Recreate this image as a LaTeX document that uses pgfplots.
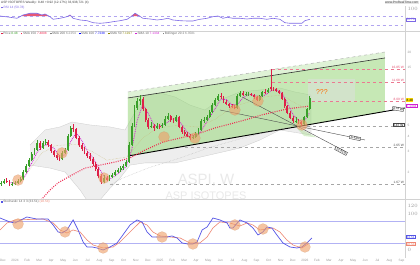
\documentclass[border=0pt]{standalone}
\usepackage{pgfplots}
\pgfplotsset{compat=1.18}
\usepackage{pgfplotstable}
\usepackage{fontspec}
\setmainfont{Liberation Sans}
\definecolor{cgreen}{RGB}{58,160,42}
\definecolor{cred}{RGB}{222,32,72}
\definecolor{crsi}{RGB}{125,105,230}
\definecolor{cstk}{RGB}{85,85,230}
\definecolor{cstd}{RGB}{238,135,115}
\definecolor{corange}{RGB}{240,160,105}
\definecolor{cchan}{RGB}{150,215,120}
\definecolor{cmag}{RGB}{210,30,210}
\definecolor{csma}{RGB}{240,40,80}
\definecolor{colive}{RGB}{200,185,120}
\newcommand{\tf}{\fontsize{3.2}{3.6}\selectfont}

% weekly candles, up weeks (close >= open)
\pgfplotstableread{
w o h l c
-5 1.60 1.72 1.56 1.65
-4 1.65 1.76 1.62 1.71
-1 1.59 1.68 1.55 1.62
0 1.62 1.72 1.58 1.65
1 1.65 1.78 1.62 1.71
2 1.71 1.86 1.68 1.78
3 1.78 2.10 1.75 2.03
4 2.03 2.38 1.98 2.28
5 2.28 2.66 2.22 2.56
6 2.56 2.98 2.50 2.87
7 2.87 3.25 2.80 3.10
8 3.10 3.72 3.02 3.55
10 3.22 3.68 3.15 3.55
11 3.55 3.85 3.40 3.61
17 2.61 3.02 2.55 2.93
18 2.93 3.25 2.85 3.10
19 3.10 4.20 3.05 4.06
20 4.06 4.95 3.98 4.73
32 1.68 1.90 1.64 1.81
34 1.74 1.92 1.70 1.85
35 1.85 1.98 1.80 1.92
36 1.92 2.10 1.88 2.03
37 2.03 2.20 1.98 2.11
38 2.11 2.28 2.05 2.19
39 2.19 2.36 2.12 2.28
40 2.28 2.58 2.22 2.46
41 2.46 3.60 2.40 3.41
42 3.41 5.20 3.35 4.91
43 4.91 7.30 4.80 6.94
44 6.94 8.40 6.70 7.94
45 7.94 8.95 7.40 8.25
49 4.82 5.30 4.70 4.91
51 4.73 5.20 4.65 4.91
53 4.88 5.25 4.75 5.01
54 5.01 5.90 4.95 5.62
55 5.62 6.30 5.50 5.95
58 5.41 6.10 5.30 5.84
64 3.90 4.15 3.82 3.98
65 3.98 4.40 3.90 4.21
66 4.21 4.75 4.12 4.55
67 4.55 5.60 4.45 5.41
68 5.41 5.80 5.20 5.51
69 5.51 6.10 5.40 5.84
70 5.84 6.70 5.75 6.43
71 6.43 7.60 6.30 7.35
72 7.35 8.40 7.20 8.09
73 8.09 9.10 7.95 8.73
80 6.94 9.00 6.85 8.73
81 8.73 9.70 8.60 9.25
83 8.90 9.40 8.70 9.00
84 9.00 9.50 8.80 9.08
88 8.09 8.95 7.95 8.73
89 8.73 9.70 8.60 9.43
91 9.35 10.20 9.20 9.80
101 5.41 5.80 5.20 5.45
104 5.10 6.00 5.00 5.84
105 5.84 7.00 5.75 6.81
106 6.81 8.70 6.70 8.48
}\upc
% down weeks (close < open)
\pgfplotstableread{
w o h l c
-3 1.71 1.80 1.66 1.70
-2 1.70 1.74 1.55 1.59
9 3.55 3.70 3.12 3.22
12 3.61 3.75 3.30 3.41
13 3.41 3.50 2.95 3.04
14 3.04 3.12 2.72 2.82
15 2.82 2.95 2.58 2.66
16 2.66 2.80 2.50 2.61
21 4.73 5.10 4.40 4.64
22 4.64 4.75 3.80 3.90
23 3.90 4.05 3.30 3.41
24 3.41 3.55 3.05 3.16
25 3.16 3.30 2.85 2.93
26 2.93 3.05 2.68 2.76
27 2.76 2.90 2.52 2.61
28 2.61 2.70 2.30 2.37
29 2.37 2.45 2.08 2.15
30 2.15 2.22 1.82 1.88
31 1.88 1.95 1.62 1.68
33 1.81 1.88 1.70 1.74
46 8.25 8.50 6.60 6.81
47 6.81 7.00 5.30 5.51
48 5.51 5.70 4.60 4.82
50 4.91 5.10 4.50 4.73
52 4.91 5.10 4.60 4.88
56 5.95 6.10 5.35 5.51
57 5.51 5.70 5.20 5.41
59 5.84 5.95 4.70 4.82
60 4.82 4.95 4.25 4.38
61 4.38 4.55 4.05 4.21
62 4.21 4.35 3.95 4.06
63 4.06 4.20 3.78 3.90
74 8.73 9.30 8.30 8.65
75 8.65 8.80 7.60 7.79
76 7.79 8.10 7.30 7.49
77 7.49 7.70 7.00 7.21
78 7.21 7.50 6.90 7.07
79 7.07 7.30 6.75 6.94
82 9.25 9.60 8.70 8.90
85 9.08 9.30 8.70 8.90
86 8.90 9.10 8.30 8.57
87 8.57 8.80 7.90 8.09
90 9.43 9.90 9.10 9.35
92 10.30 14.66 9.60 9.95
93 9.95 10.40 9.60 9.90
94 9.90 10.10 9.40 9.61
95 9.61 9.80 9.00 9.25
96 9.25 9.40 8.10 8.25
97 8.25 8.40 7.00 7.21
98 7.21 7.40 6.15 6.31
99 6.31 6.50 5.60 5.73
100 5.73 5.95 5.25 5.41
102 5.45 5.60 5.10 5.30
103 5.30 5.45 4.95 5.10
}\dnc

\pgfplotsset{panel/.style={scale only axis, width=405bp, xmin=-5.4, xmax=140.3,
  axis line style={draw=none}, xtick=\empty, tick style={draw=none},
  yticklabel pos=right, yticklabel style={font=\tf, text=gray!80, xshift=-1bp}},
  lg/.style={y filter/.expression={log10(y)}},
  hilite/.style={color=corange, only marks, mark=*, mark size=5.5bp, forget plot,
     mark options={fill=corange, fill opacity=0.62, draw=corange!80!black, draw opacity=0.3, line width=0.3bp}}}

\begin{document}
\begin{tikzpicture}
\useasboundingbox (0bp,0bp) rectangle (420bp,-265bp);
\fill[white] (0bp,0bp) rectangle (420bp,-265bp);

% ---------------- RSI panel
\begin{axis}[panel, at={(0bp,-6bp)}, anchor=north west, height=25bp, ymin=5.6, ymax=113,
  ytick={100}]
\addplot[fill=cred!75, draw=none, forget plot] coordinates {(2.5,70) (2.9,74.4) (5.4,81.7) (7.9,81.7) (9.7,74.4) (10.8,78.7) (12,70)};
\addplot[fill=cred!75, draw=none, forget plot] coordinates {(19.2,70) (19.8,74.4) (20.3,70)};
\addplot[fill=cred!75, draw=none, forget plot] coordinates {(41.8,70) (43.2,81.7) (44.2,74.4) (45,70)};
\addplot[crsi!60, dashed, line width=0.3bp, forget plot] coordinates {(-5.4,70) (140.3,70)};
\addplot[crsi!60, dashed, line width=0.3bp, forget plot] coordinates {(-5.4,30) (140.3,30)};
\addplot[crsi, line width=0.6bp] coordinates {
(-5.4,70.1) (-1.8,64.5) (0.7,60.2) (2.9,74.4) (5.4,81.7) (7.9,81.7) (9.7,74.4) (10.8,78.7)
(12.6,67.1) (13.7,55.9) (16.2,60.2) (18.7,67.1) (19.8,74.4) (20.9,60.2) (23.4,52.9) (25.9,49.9)
(28.1,41.3) (30.6,38.7) (33.1,41.3) (35.3,45.6) (37.8,49.9) (40.3,55.9) (42.1,70.1) (43.2,81.7)
(44.2,74.4) (46,60.2) (48.6,57.2) (51.1,52.9) (53.2,55.9) (55,60.2) (56.8,52.9) (59.4,49.9)
(61.9,48.6) (64,48.6) (66.5,55.9) (69.1,60.2) (71.2,67.1) (73,70.1) (74.8,60.2) (76.3,64.5)
(78.4,60.2) (80.9,60.2) (83.5,57.2) (85.6,60.2) (88.1,60.2) (90.6,55.9) (92.8,60.2) (95.3,55.9)
(97.1,41.3) (98.9,38.7) (101.4,38.7) (103.2,38.7) (104.3,49.9) (106.1,55.9)};
\end{axis}

% ---------------- Main price panel (y = log10 of price)
\begin{axis}[panel, at={(0bp,-35bp)}, anchor=north west, height=164bp,
  ymin=0.0828, ymax=1.4495,
  ytick={0.30103,0.47712,0.60206,0.69897,1.17609,1.30103},
  yticklabels={2,3,4,5,15,20}]
% Bollinger band: upper band, then lower band reversed
\addplot[lg, fill=gray!13, draw=gray!40, line width=0.3bp, forget plot] coordinates {
(5.4,3.40) (7.2,3.755) (10.8,4.55) (16.2,4.82) (20.5,5.30) (27.0,5.01) (34.2,4.82) (39.6,4.55)
(43.2,6.43) (46.8,8.90) (52.2,9.25) (57.6,8.57) (62.9,7.35) (68.3,6.68) (73.7,8.09) (80.9,9.43)
(88.1,9.80) (95.3,10.18) (100.7,9.43) (106.5,8.90)
(106.5,4.13) (95.3,4.55) (88.1,3.755) (80.9,3.22) (70.1,2.82) (57.6,2.42) (46.8,2.42) (41.4,2.32)
(37.8,1.81) (34.2,1.49) (30.6,1.19) (27.0,1.08) (23.4,1.44) (18.0,2.03) (12.6,2.19) (5.4,2.32)};
\addplot[lg, fill=cchan, fill opacity=0.30, draw=none, forget plot] coordinates {(40.6,9.43) (133.1,20.32) (133.1,6.48) (40.6,2.76)};
\addplot[lg, fill=cchan, fill opacity=0.34, draw=none, forget plot] coordinates {(40.6,8.41) (133.1,18.13) (133.1,6.48) (40.6,2.76)};
\addplot[lg, fill=gray!25, fill opacity=0.5, draw=none, forget plot] coordinates {(105.4,12.1) (122.3,12.1) (122.3,7.79) (105.4,7.79)};
\addplot[lg, fill=cchan, fill opacity=0.35, draw=none, forget plot] coordinates {(100.5,4.95) (108.5,3.95) (104,4.05)};
\addplot[lg, cred!60, dashed, line width=0.35bp, forget plot] coordinates {(92.4,14.66) (140.3,14.66)};
\addplot[lg, cred!60, dashed, line width=0.35bp, forget plot] coordinates {(92.4,11.43) (140.3,11.43)};
\addplot[lg, cred!60, dashed, line width=0.35bp, forget plot] coordinates {(106.8,7.94) (140.3,7.94)};
\addplot[lg, gray!70, dashed, line width=0.4bp, forget plot] coordinates {(105,4.91) (140.3,4.91)};
\addplot[lg, gray!70, dashed, line width=0.4bp, forget plot] coordinates {(61.2,3.28) (140.3,3.28)};
\addplot[lg, gray!70, dashed, line width=0.4bp, forget plot] coordinates {(34.2,1.62) (140.3,1.62)};
\addplot[lg, gray!60, dashed, line width=0.5bp, forget plot] coordinates {(40.6,9.43) (133.1,20.32)};
\addplot[lg, black!80, line width=0.6bp, forget plot] coordinates {(40.6,8.41) (133.1,18.13)};
\addplot[lg, black, line width=0.9bp, forget plot] coordinates {(40.6,2.76) (140.3,6.94)};
\addplot[lg, black!70, line width=0.4bp, forget plot] coordinates {(73.7,6.68) (125.9,3.755)};
\addplot[lg, black!70, line width=0.4bp, forget plot] coordinates {(81.7,8.57) (119.8,2.93)};
% SMA 200 (light grey dotted)
\addplot[lg, gray!55, line width=0.45bp, densely dotted, forget plot] coordinates {
(34.2,1.59) (38.8,1.81) (48,2.20) (59.4,2.66) (70,3.25) (82.0,3.90) (92,4.45) (102.5,5.01)};
\addplot[lg, colive, line width=0.4bp, densely dotted, forget plot] coordinates {
(1.8,1.65) (9.7,2.93) (14.7,3.38) (22,3.45) (28,2.99) (33,2.55) (40.3,2.71) (46,3.90) (51,4.70) (59,5.0)
(66,4.8) (72,5.6) (78,7.0) (84,7.8) (90,8.6) (96,8.9) (100,7.8) (106,6.6)};
\addplot[lg, csma, line width=1.1bp, dash pattern=on 0.9bp off 1.3bp, forget plot] coordinates {
(8,1.08) (9.7,1.21) (12.6,1.44) (15.5,1.65) (20.5,1.92) (25.2,2.19) (30.6,2.32) (36,2.46)
(41.4,2.66) (46.8,3.10) (53.2,3.61) (59.4,3.90) (65.5,4.21) (71.9,4.73) (77.3,5.10) (82.7,5.51)
(88.8,6.08) (97.8,6.81) (106.1,7.21)};
\addplot[lg, cmag, line width=0.8bp, densely dotted, forget plot] coordinates {
(-2,1.66) (0,1.64) (2,1.68) (4,1.94) (6,2.41) (8,2.99) (10,3.35) (12,3.44) (14,3.20) (16,2.77)
(18,2.82) (20,3.63) (22,4.31) (24,3.73) (26,3.05) (28,2.66) (30,2.24) (32,1.87) (34,1.77) (36,1.88)
(38,2.06) (40,2.26) (42,3.11) (44,5.51) (46,7.45) (48,6.21) (50,4.98) (52,4.86) (54,5.10) (56,5.51)
(58,5.67) (60,5.08) (62,4.35) (64,4.03) (66,4.15) (68,4.88) (70,5.78) (72,6.87) (74,8.20) (76,8.17)
(78,7.38) (80,7.45) (82,8.41) (84,9.03) (86,8.85) (88,8.57) (90,8.90) (92,9.65) (94,9.84) (96,9.25)
(98,7.67) (100,6.12) (102,5.46) (104,5.41) (106,6.33)};
% candles: wicks low->high, bodies open<->close
\addplot[cgreen, line width=0.4bp, forget plot, quiver={u=0, v={log10(\thisrow{h})-log10(\thisrow{l})}}]
  table[x=w, y expr={log10(\thisrow{l})}] {\upc};
\addplot[cred, line width=0.4bp, forget plot, quiver={u=0, v={log10(\thisrow{h})-log10(\thisrow{l})}}]
  table[x=w, y expr={log10(\thisrow{l})}] {\dnc};
\addplot[cgreen, line width=1.9bp, forget plot, quiver={u=0, v={log10(\thisrow{c})-log10(\thisrow{o})}}]
  table[x=w, y expr={log10(\thisrow{o})}] {\upc};
\addplot[cred, line width=1.9bp, forget plot, quiver={u=0, v={log10(\thisrow{o})-log10(\thisrow{c})}}]
  table[x=w, y expr={log10(\thisrow{c})}] {\dnc};
\addplot[lg, hilite] coordinates {
(1.1,1.74) (16.9,2.93) (32,1.81) (53.6,3.98) (64.7,3.90) (79.1,6.68) (87.4,7.94) (103.2,5.01)};
\node[text=orange!85!red, font=\fontsize{7}{8}\selectfont] at (axis cs:110.4,0.9745) {???};
\end{axis}

% ---------------- Stochastic panel
\begin{axis}[panel, at={(0bp,-200bp)}, anchor=north west, height=57bp, ymin=-18.3, ymax=137,
  ytick={0,100,120},
  xtick={-4.35,0,4.35,8.69,13.04,17.38,21.73,26.07,30.42,34.76,39.11,43.45,47.80,52.14,56.49,60.83,65.18,69.52,73.87,78.21,82.56,86.90,91.25,95.60,99.94,104.29,108.63,112.98,117.32,121.67,126.01,130.36,134.70,139.05},
  xticklabels={Dec,2024,Feb,Mar,Apr,May,Jun,Jul,Aug,Sep,Oct,Nov,Dec,2025,Feb,Mar,Apr,May,Jun,Jul,Aug,Sep,Oct,Nov,Dec,2026,Feb,Mar,Apr,May,Jun,Jul,Aug,Sep},
  xticklabel style={font=\tf, text=gray!80, yshift=1bp}]
\addplot[cstk!45, line width=0.5bp, forget plot] coordinates {(-5.4,80) (140.3,80)};
\addplot[cstk!45, line width=0.5bp, forget plot] coordinates {(-5.4,20) (140.3,20)};
\addplot[hilite] coordinates {
(1.1,71.7) (18,50) (31.7,6.3) (52.9,36.2) (64,17.2) (79.1,69) (89.2,58) (104.3,9)};
\addplot[cstd, line width=0.6bp] coordinates {
(-5.4,55.3) (-2.9,74.4) (0,82.6) (10.1,85.3) (13.7,74.4) (16.2,55.3) (18.7,47.1) (20.9,55.3) (23.4,49.9)
(25.9,28.1) (28.1,14.4) (31.7,6.3) (35.3,9) (37.8,22.6) (41.4,49.9) (45,77.1) (47.5,68.9) (49.6,49.9)
(52.2,39) (55.8,36.2) (59.4,33.5) (62.9,19.9) (66.5,19.9) (69.1,36.2) (71.2,60.8) (73.7,77.1) (77.3,74.4)
(80.9,66.2) (83.5,74.4) (85.6,68.9) (88.1,55.3) (90.6,58) (92.8,60.8) (95.3,49.9) (97.8,28.1) (100,14.4)
(103.2,6.3) (105.4,17.2)};
\addplot[cstk, line width=0.7bp] coordinates {
(-5.4,88) (-1.8,77) (0,74.4) (4.3,90.7) (7.9,85) (11.9,85) (13.7,69) (15.5,50) (16.9,47) (18.7,55.3)
(20.9,82.6) (22.7,55.3) (24.5,22.6) (25.9,9) (27.7,9) (29.5,6.3) (31.7,0.8) (34.2,9) (36.7,19.9)
(38.8,41.7) (41.4,69) (43.9,82.6) (45.7,77) (47.5,50) (49.3,36.2) (51.4,36.2) (54.7,36.2) (56.5,39)
(58.3,33.5) (60.1,19.9) (62.2,17.2) (64,17.2) (65.5,22.6) (67.3,55.3) (69.1,63.5) (71.2,88) (73.7,82.6)
(76.3,74.4) (77.3,60.8) (78.4,60.8) (80.9,82.6) (83.5,74.4) (85.6,60.8) (87.4,41.7) (89.2,50) (90.6,63.5)
(92.4,60.8) (94.2,41.7) (96.4,19.9) (98.9,9) (101.4,6.3) (103.2,9) (105,19.9) (106.8,33.5)};
\end{axis}

\draw[gray!35, line width=0.4bp] (0bp,-31.5bp) -- (420bp,-31.5bp);
\draw[gray!35, line width=0.4bp] (0bp,-199.5bp) -- (420bp,-199.5bp);
\draw[gray!35, line width=0.4bp] (405.5bp,-6bp) -- (405.5bp,-258bp);

\node[anchor=west, inner sep=0, font=\tf, text=black!75] at (1bp,-2.5bp) {ASP ISOTOPES Weekly: 8.48 +0.92 (12.17\%) 33,938,721 (4)};
\node[anchor=east, inner sep=0.6bp, font=\tf, fill=gray!20, text=black!70] at (419bp,-2.5bp) {www.ProRealTime.com};
\node[anchor=west, inner sep=0, font=\tf, text=crsi] at (1bp,-7.5bp) {\textcolor{crsi}{\rule{1.6bp}{1.6bp}} RSI 14 (50.78)};
\node[anchor=west, inner sep=0, font=\tf, text=black!60] at (1bp,-33.5bp) {\textcolor{cred}{\rule{1.6bp}{1.6bp}}\,Price \textcolor{cgreen}{8.48}\quad
 \textcolor{csma}{\rule{1.6bp}{1.6bp}}\,SMA 150 \textcolor{csma}{7.4808}\quad
 \textcolor{gray}{\rule{1.6bp}{1.6bp}}\,SMA 200 \textcolor{gray}{6.2254}\quad
 \textcolor{blue}{\rule{1.6bp}{1.6bp}}\,SMA 100 \textcolor{blue}{7.7238}\quad
 \textcolor{olive}{\rule{1.6bp}{1.6bp}}\,SMA 50 \textcolor{olive}{7.1917}\quad
 \textcolor{cmag}{\rule{1.6bp}{1.6bp}}\,SMA 10 \textcolor{cmag}{7.1334}\quad
 \textcolor{gray}{\rule{1.6bp}{1.6bp}}\,Bollinger 20 2 \textcolor{gray}{6.3581}};
\node[anchor=west, inner sep=0, font=\tf, text=black!60] at (1bp,-202bp) {\textcolor{cstk}{\rule{1.6bp}{1.6bp}}\,Stochastic 14 3 3 (33.51) \textcolor{cstd}{(18.54)}};
\node[text=gray!17, font=\fontsize{15}{16}\selectfont] at (206bp,-180bp) {ASPI, W};
\node[text=gray!17, font=\fontsize{11}{12}\selectfont] at (206bp,-196bp) {ASP ISOTOPES};
\node[anchor=east, inner sep=0, font=\tf, text=cred!80] at (404bp,-67bp) {16.85 W};
\node[anchor=east, inner sep=0, font=\tf, text=cred!80] at (404bp,-80bp) {11.68 W};
\node[anchor=east, inner sep=0, font=\tf, text=cred!80] at (404bp,-99bp) {8.09 W};
\node[anchor=east, inner sep=0.5bp, font=\tf, draw=black!70, fill=white, text=black] at (404bp,-125bp) {3.47 W};
\node[anchor=east, inner sep=0, font=\tf, text=black!70] at (404bp,-145bp) {2.65 W};
\node[anchor=east, inner sep=0, font=\tf, text=black!70] at (404bp,-182bp) {1.67 W};
\node[anchor=west, inner sep=0.5bp, font=\tf, fill=yellow!80!orange, text=black] at (406bp,-100bp) {8.48};
\node[anchor=west, inner sep=0.5bp, font=\tf, draw=cmag, text=cmag] at (406bp,-106bp) {7.1334};
\node[rotate=-10, inner sep=0.5bp, font=\tf, draw=black!70, fill=white] at (398bp,-109bp) {4.73 W};
\node[rotate=-12, inner sep=0.5bp, font=\tf, draw=black!70, fill=white] at (355bp,-138bp) {-6.34\%};
\node[rotate=-28, inner sep=0.5bp, font=\tf, draw=black!70, fill=white] at (341bp,-151bp) {-12.81\%};
\node[anchor=west, inner sep=0.5bp, font=\tf, draw=cstk, text=cstk] at (406bp,-237bp) {33.51};
\node[anchor=west, inner sep=0.5bp, font=\tf, draw=cstd, text=cstd] at (406bp,-244bp) {18.54};
\node[anchor=west, inner sep=0.5bp, font=\tf, draw=crsi, text=crsi] at (406bp,-19.5bp) {50.78};
\end{tikzpicture}
\end{document}
